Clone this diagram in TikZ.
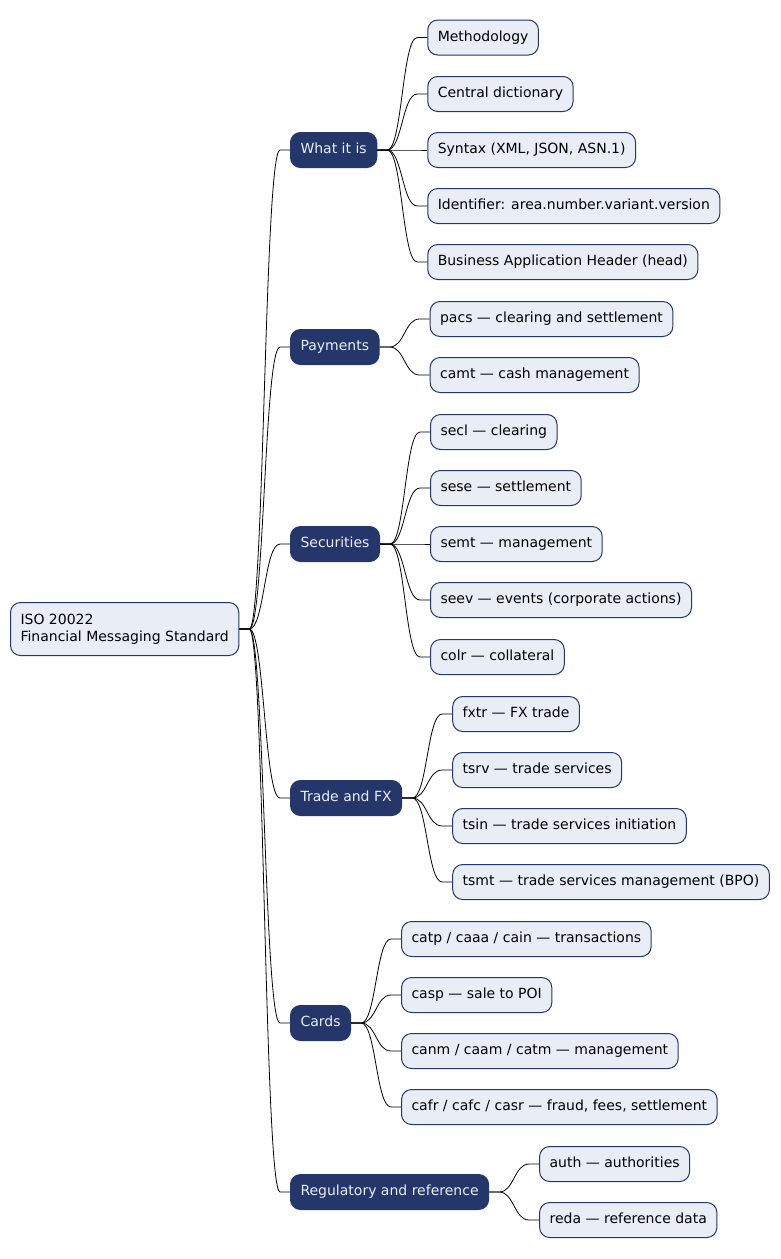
\documentclass[tikz,border=0pt]{standalone}
\usepackage{fontspec}
\setmainfont{DejaVu Sans}
\usepackage{tikz}
\usetikzlibrary{positioning,calc}
\definecolor{navy}{RGB}{37,54,106}
\definecolor{pale}{RGB}{232,237,246}
\newcommand{\branch}[2]{%
\path (#1.east) ++(25,0) coordinate (mid);
\draw[edge] (#1.east) -- ++(10,0) .. controls (mid) and (mid |- #2.west) .. ([xshift=-10]#2.west) -- (#2.west);}

\begin{document}
\begin{tikzpicture}[x=1pt, y=-1pt, every node/.style={font=\fontsize{14}{17}\selectfont},
  leaf/.style={draw=navy, fill=pale, line width=1pt, rounded corners=10pt, anchor=west, inner xsep=10pt, minimum height=35pt, text height=10pt, text depth=3pt},
  cat/.style={leaf, fill=navy, text=pale},
  edge/.style={line width=0.8pt}]
\useasboundingbox (0,0) rectangle (780,1259);

\node[leaf, align=left, minimum height=53pt, text height=, text depth=] (root) at (10,629) {ISO 20022\\Financial Messaging Standard};

\foreach \c/\y/\txt in {what/150/What it is, pay/347/Payments, sec/544/Securities, fx/798/Trade and FX, cards/1023/Cards, reg/1192/Regulatory and reference} {
\node[cat] (\c) at (290,\y) {\txt};
\branch{root}{\c}
}

\foreach \c/\n/\y/\txt in {what/1/37.5/{Methodology}, what/2/94/{Central dictionary}, what/3/150/{Syntax (XML, JSON, ASN.1)}, what/4/206/{Identifier: area.number.variant.version}, what/5/262/{Business Application Header (head)},
pay/1/319/{pacs — clearing and settlement}, pay/2/375/{camt — cash management},
sec/1/432/{secl — clearing}, sec/2/488/{sese — settlement}, sec/3/544/{semt — management}, sec/4/600/{seev — events (corporate actions)}, sec/5/657/{colr — collateral},
fx/1/714/{fxtr — FX trade}, fx/2/770/{tsrv — trade services}, fx/3/826/{tsin — trade services initiation}, fx/4/882/{tsmt — trade services management (BPO)},
cards/1/939/{catp / caaa / cain — transactions}, cards/2/995/{casp — sale to POI}, cards/3/1051/{canm / caam / catm — management}, cards/4/1107/{cafr / cafc / casr — fraud, fees, settlement},
reg/1/1164/{auth — authorities}, reg/2/1220/{reda — reference data}} {
\node[leaf, xshift=50pt] (\c\n) at (\c.east |- 0,\y) {\txt};
\branch{\c}{\c\n}
}
\end{tikzpicture}
\end{document}
